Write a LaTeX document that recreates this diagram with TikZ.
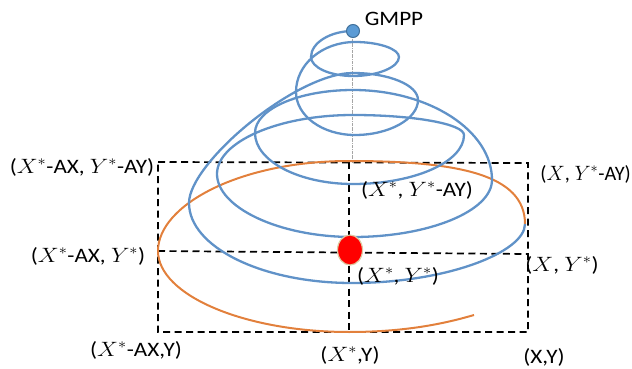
\documentclass[tikz,border=0pt]{standalone}
\usepackage{fontspec}
\setmainfont{Carlito}
\usepackage{graphicx}
\usetikzlibrary{shapes.geometric}
\definecolor{spblue}{RGB}{96,146,200}
\definecolor{sporange}{RGB}{226,128,60}
\definecolor{dotblue}{RGB}{91,155,213}
\definecolor{dotedge}{RGB}{65,113,156}
\definecolor{rededge}{RGB}{222,200,160}
\newcommand\myX{$X^{*}$}
\newcommand\myY{$Y^{*}$}
\newcommand\mylab[1]{\scalebox{1.13}[1]{#1}}
\begin{document}
\begin{tikzpicture}[x=1pt,y=-1pt,
  blueline/.style={draw=spblue, line width=2.3pt},
  orangeline/.style={draw=sporange, line width=2pt},
  dashbox/.style={draw=black, line width=1.7pt, dash pattern=on 7pt off 4.5pt},
  guide/.style={draw=gray!70, line width=0.6pt, dash pattern=on 3pt off 1pt on 0.6pt off 1pt},
  lab/.style={inner sep=0pt, font=\fontsize{20.5}{23}\selectfont}]
\useasboundingbox (0,0) rectangle (632,369);
% dashed grid
\coordinate (TL) at (158,162);
\coordinate (TR) at (528,163);
\coordinate (BR) at (528,332);
\coordinate (BL) at (158,332);
\coordinate (ML) at (158,251);
\coordinate (MR) at (528,254);
\coordinate (TM) at (349,162);
\coordinate (BM) at (349,332);
\draw[dashbox] (TL) -- (TR) -- (BR) -- (BL) -- cycle;
\draw[dashbox] (ML) -- (MR);
\draw[dashbox] (TM) -- (BM);
% guide line
\coordinate (G) at (352,33);
\coordinate (GT) at (352,162);
\draw[guide] (G) -- (GT);
% orange spiral
\draw[orangeline] (525,224) .. controls (525,175) and (460,161) .. (349,161)
  .. controls (240,161) and (158,205) .. (158,251)
  .. controls (158,295) and (244,332) .. (349,332)
  .. controls (410,332) and (450,322) .. (474,315);
% blue spiral A
\draw[blueline] (353,31) .. controls (330,31) and (311,43) .. (311,57)
  .. controls (311,67.5) and (330,76) .. (353,76)
  .. controls (378,76) and (399,67) .. (399,57)
  .. controls (399,49) and (379,42) .. (355,42)
  .. controls (322,42) and (296,64.5) .. (296,92)
  .. controls (296,116) and (322.5,135) .. (355,135)
  .. controls (389,135) and (418,119) .. (418,100)
  .. controls (418,85) and (389,73) .. (353,73)
  .. controls (296,73) and (189,163) .. (189,203)
  .. controls (189,247) and (262,283) .. (352,283)
  .. controls (447,283) and (525,252) .. (525,224);
% blue closed loops B
\draw[blueline] (353,184) .. controls (299,184) and (255,161) .. (255,133)
  .. controls (255,109) and (299,90) .. (353,90)
  .. controls (429,90) and (492,130.5) .. (492,180)
  .. controls (492,211) and (429,237) .. (353,237)
  .. controls (278,237) and (217,207) .. (217,174)
  .. controls (217,142) and (278,115) .. (353,115)
  .. controls (414,115) and (464,124) .. (464,135)
  .. controls (464,162) and (414,184) .. (353,184) -- cycle;
% dots
\node[circle, fill=dotblue, draw=dotedge, line width=1pt, minimum size=13pt, inner sep=0pt] (gmpp) at (353,31) {};
\node[ellipse, fill=red, draw=rededge, line width=1.2pt, minimum width=25pt, minimum height=30pt, inner sep=0pt] (opt) at (350,250) {};
% labels
\node[lab] (lgmpp) at (394,19) {\mylab{GMPP}};
\node[lab] (l1) at (82,167) {\mylab{(\myX-AX, \myY-AY)}};
\node[lab, anchor=east] (l2) at (631,174) {\scalebox{0.99}[1]{($X$, \myY-AY)}};
\node[lab] (l3) at (417,190) {\mylab{(\myX, \myY-AY)}};
\node[lab] (l4) at (88,256) {\mylab{(\myX-AX, \myY)}};
\node[lab] (l5) at (398,276) {\mylab{(\myX, \myY)}};
\node[lab] (l6) at (562,265) {\mylab{($X$, \myY)}};
\node[lab] (l7) at (136,350) {\mylab{(\myX-AX,Y)}};
\node[lab] (l8) at (350,355) {\mylab{(\myX,Y)}};
\node[lab] (l9) at (544,357) {\mylab{(X,Y)}};
\end{tikzpicture}
\end{document}
